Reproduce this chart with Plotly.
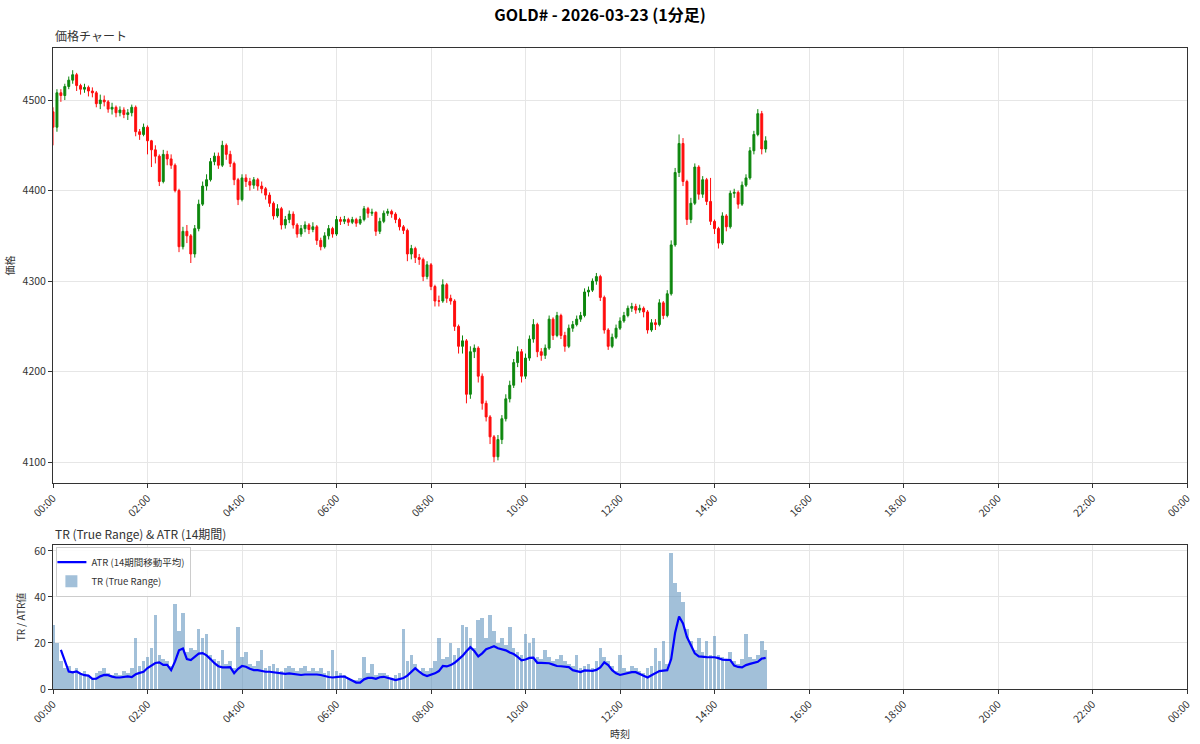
import pandas as pd
import plotly.graph_objects as go
from plotly.subplots import make_subplots

# ---- data (5-minute resolution, 00:00 - 15:05) ----
FIRST_OPEN = 4487
CLOSE = [
    4470, 4508, 4505, 4515, 4522, 4528, 4516, 4512, 4514, 4510, 4508, 4496,
    4500, 4498, 4490, 4492, 4486, 4489, 4484, 4486, 4492, 4465, 4462, 4470,
    4455, 4445, 4438, 4410, 4440, 4435, 4428, 4400, 4338, 4355, 4350, 4330,
    4358, 4385, 4405, 4412, 4432, 4438, 4428, 4450, 4440, 4430, 4412, 4390,
    4414, 4410, 4406, 4412, 4405, 4402, 4395, 4386, 4372, 4380, 4362, 4368,
    4374, 4362, 4352, 4358, 4362, 4357, 4360, 4345, 4338, 4350, 4358, 4352,
    4368, 4366, 4368, 4365, 4368, 4364, 4368, 4380, 4375, 4376, 4355, 4366,
    4375, 4377, 4374, 4368, 4360, 4356, 4330, 4336, 4326, 4324, 4305, 4318,
    4294, 4278, 4278, 4296, 4281, 4278, 4250, 4228, 4234, 4175, 4222, 4226,
    4195, 4165, 4150, 4128, 4106, 4125, 4148, 4170, 4185, 4210, 4222, 4195,
    4215, 4236, 4252, 4222, 4218, 4226, 4258, 4240, 4262, 4240, 4228, 4248,
    4252, 4258, 4262, 4288, 4290, 4300, 4305, 4282, 4246, 4228, 4238, 4248,
    4256, 4262, 4270, 4272, 4268, 4270, 4266, 4246, 4254, 4252, 4276, 4262,
    4286, 4340, 4420, 4452, 4410, 4368, 4386, 4426, 4396, 4412, 4388, 4366,
    4358, 4342, 4372, 4360, 4397, 4398, 4385, 4406, 4414, 4444, 4462, 4485,
    4446, 4455,
]
HIGH = [
    4492, 4512, 4512, 4518, 4526, 4533, 4530, 4518, 4518, 4516, 4514, 4510,
    4506, 4505, 4500, 4497, 4494, 4493, 4492, 4490, 4495, 4494, 4468, 4474,
    4472, 4456, 4450, 4440, 4445, 4444, 4440, 4430, 4402, 4360, 4362, 4352,
    4362, 4390, 4410, 4418, 4436, 4442, 4442, 4455, 4452, 4444, 4432, 4414,
    4418, 4418, 4414, 4415, 4414, 4410, 4404, 4398, 4388, 4385, 4382, 4372,
    4378, 4377, 4364, 4362, 4366, 4364, 4365, 4362, 4348, 4354, 4362, 4360,
    4372, 4371, 4372, 4370, 4371, 4370, 4372, 4383, 4382, 4380, 4377, 4370,
    4378, 4380, 4379, 4376, 4370, 4362, 4358, 4340, 4338, 4330, 4326, 4322,
    4320, 4296, 4284, 4302, 4298, 4285, 4280, 4252, 4240, 4236, 4228, 4230,
    4228, 4198, 4168, 4152, 4130, 4130, 4152, 4175, 4190, 4214, 4228, 4225,
    4220, 4240, 4258, 4254, 4226, 4230, 4262, 4260, 4266, 4264, 4244, 4252,
    4256, 4262, 4266, 4292, 4294, 4303, 4309, 4307, 4284, 4248, 4242, 4252,
    4260, 4266, 4273, 4276, 4275, 4274, 4272, 4268, 4258, 4258, 4280, 4278,
    4290, 4345, 4425, 4462, 4458, 4412, 4392, 4430, 4428, 4416, 4414, 4414,
    4368, 4360, 4376, 4374, 4400, 4402, 4400, 4410, 4418, 4448, 4466, 4490,
    4488, 4460,
]
LOW = [
    4450, 4465, 4498, 4500, 4512, 4518, 4510, 4506, 4508, 4504, 4503, 4492,
    4490, 4493, 4486, 4484, 4481, 4482, 4480, 4478, 4482, 4460, 4456, 4460,
    4440, 4426, 4430, 4405, 4408, 4428, 4424, 4398, 4332, 4335, 4342, 4320,
    4326, 4355, 4383, 4400, 4410, 4428, 4424, 4426, 4434, 4426, 4406, 4384,
    4388, 4404, 4400, 4402, 4400, 4397, 4390, 4382, 4368, 4370, 4357, 4358,
    4364, 4358, 4348, 4349, 4354, 4352, 4354, 4340, 4334, 4336, 4346, 4348,
    4350, 4362, 4363, 4361, 4363, 4360, 4362, 4366, 4370, 4372, 4350, 4352,
    4364, 4372, 4370, 4364, 4356, 4352, 4322, 4324, 4320, 4318, 4300, 4302,
    4290, 4272, 4272, 4276, 4276, 4274, 4245, 4220, 4220, 4165, 4170, 4215,
    4188, 4158, 4145, 4120, 4100, 4102, 4120, 4145, 4166, 4182, 4205, 4188,
    4192, 4212, 4232, 4216, 4212, 4214, 4224, 4235, 4238, 4236, 4222, 4226,
    4244, 4250, 4255, 4260, 4283, 4288, 4296, 4278, 4242, 4224, 4226, 4236,
    4246, 4254, 4260, 4266, 4264, 4265, 4260, 4242, 4244, 4246, 4250, 4258,
    4260, 4284, 4338, 4415, 4405, 4362, 4364, 4384, 4390, 4392, 4384, 4362,
    4352, 4336, 4340, 4355, 4358, 4392, 4380, 4383, 4404, 4412, 4440, 4460,
    4440, 4442,
]
TR = [
    28, 20, 12, 9, 10, 8, 9, 7, 8, 6, 5, 7,
    8, 9, 7, 6, 7, 6, 8, 7, 9, 22, 10, 12,
    14, 18, 32, 15, 13, 12, 10, 37, 25, 33, 16, 18,
    17, 26, 22, 24, 15, 13, 12, 17, 11, 12, 9, 27,
    14, 16, 11, 10, 12, 17, 9, 10, 11, 9, 8, 9,
    10, 9, 8, 9, 10, 8, 9, 8, 9, 7, 8, 17,
    8, 7, 6, 5, 4, 4, 5, 14, 7, 11, 6, 7,
    7, 6, 5, 6, 7, 26, 12, 15, 11, 8, 9, 8,
    9, 12, 22, 13, 14, 20, 15, 18, 28, 27, 22, 18,
    30, 31, 22, 32, 25, 20, 22, 19, 27, 18, 16, 15,
    24, 20, 22, 14, 13, 17, 14, 12, 13, 15, 12, 11,
    10, 15, 9, 10, 11, 9, 12, 18, 14, 12, 10, 8,
    15, 9, 8, 10, 9, 8, 7, 9, 10, 18, 12, 21,
    11, 59, 46, 42, 38, 26, 21, 17, 22, 16, 21, 15,
    23, 15, 14, 13, 16, 12, 11, 13, 24, 14, 13, 15,
    21, 17,
]
ATR_START = 2  # ATR defined from the 3rd 5-minute slot onward
ATR = [
    17, 12.6, 7.6, 7.2, 7.6, 6.6, 6.0, 5.8, 4.4, 4.5,
    5.5, 6.1, 6.0, 5.4, 5.0, 5.0, 5.1, 5.5, 5.2, 6.4, 7.0, 7.5,
    9.1, 10.3, 11.3, 11.6, 10.5, 10.5, 8.2, 12, 16.8, 17.6, 13, 12.6,
    14.2, 15.4, 15.6, 14.6, 13, 11.2, 9.9, 9.4, 9.4, 9.5, 6.9, 8.8,
    10, 9.7, 8.8, 8.2, 8.2, 7.8, 7.5, 7.5, 7.3, 6.9, 6.7, 6.6,
    6.8, 6.5, 6.1, 6.1, 6.3, 6.4, 6.4, 6.3, 6.1, 5.6, 5.2, 5.0,
    5.3, 5.4, 5.4, 4.5, 3.4, 2.8, 2.8, 4.2, 4.8, 4.8, 4.4, 5.1,
    5.3, 5.0, 4.4, 3.9, 4.2, 4.8, 5.8, 7.5, 9.0, 7.6, 6.3, 5.6,
    6.1, 6.8, 7.8, 10, 9.8, 10.4, 11.4, 12.8, 14.4, 16.4, 18.2, 16.5,
    14.2, 15.5, 17.3, 17.9, 18.6, 17.7, 17.3, 16.8, 15.9, 15.2, 14.0, 12.5,
    12.8, 13.5, 13.6, 11.4, 11.4, 11.4, 11.2, 10.6, 10, 9.9, 9.8, 9.5,
    8.2, 7.8, 7.4, 8.1, 8.1, 7.9, 8.3, 9.4, 11.6, 10.4, 8.2, 6.8,
    6.1, 6.5, 7.0, 7.3, 7.3, 6.6, 5.8, 5.0, 6.0, 6.9, 7.8, 8.0,
    8.2, 13, 24.5, 31.5, 28.5, 22.6, 19.3, 15.5, 14.2, 14.2, 13.9, 13.8,
    13.8, 13.4, 12.8, 12.7, 12.6, 10.2, 9.6, 9.4, 10.4, 10.9, 11.4, 11.8,
    13.2, 13.5,
]
TITLE = "GOLD# - 2026-03-23 (1分足)"
PRICE_TICKS = [4100, 4200, 4300, 4400, 4500]
TR_TICKS = [0, 20, 40, 60]

# ---- derived ----
times = pd.date_range("2026-03-23 00:00", periods=len(CLOSE), freq="5min")
OPEN = [FIRST_OPEN] + CLOSE[:-1]
x_start = pd.Timestamp("2026-03-23 00:00")
x_end = pd.Timestamp("2026-03-24 00:00")

FONT = "Noto Sans CJK JP"
TXT = "#333333"
GRID = "#e6e6e6"

fig = make_subplots(rows=2, cols=1, shared_xaxes=False, vertical_spacing=0.0)

fig.add_trace(go.Candlestick(
    x=times, open=OPEN, high=HIGH, low=LOW, close=CLOSE,
    increasing=dict(line=dict(color="green", width=1), fillcolor="green"),
    decreasing=dict(line=dict(color="red", width=1), fillcolor="red"),
    showlegend=False, whiskerwidth=0, opacity=0.95,
), row=1, col=1)

fig.add_trace(go.Scatter(
    x=times[ATR_START:], y=ATR, mode="lines",
    line=dict(color="#0000ff", width=2.2),
    name="ATR (14期間移動平均)", legendrank=1,
), row=2, col=1)

fig.add_trace(go.Bar(
    x=times, y=TR, width=4.5 * 60 * 1000,
    marker=dict(color="rgba(70,130,180,0.5)", line=dict(width=0)),
    name="TR (True Range)", legendrank=2,
), row=2, col=1)

top_dom = [206 / 641, 1.0]
bot_dom = [0.0, 144 / 641]

axis_common = dict(
    showline=True, linecolor="#333333", linewidth=1, mirror=True,
    ticks="outside", ticklen=4, tickcolor="#333333",
    showgrid=True, gridcolor=GRID, gridwidth=1, zeroline=False,
    tickfont=dict(family=FONT, size=10.5, color=TXT),
)

fig.update_layout(
    width=1200, height=744,
    margin=dict(l=53, r=7, t=48, b=55),
    paper_bgcolor="white", plot_bgcolor="white",
    font=dict(family=FONT, color=TXT),
    title=dict(text="<b>" + TITLE + "</b>", x=0.5, xanchor="center",
               y=1 - 15 / 744, yanchor="middle",
               font=dict(family=FONT, size=16, color="#000000")),
    bargap=0,
    legend=dict(x=0.003, y=0.222, xanchor="left", yanchor="top",
                bgcolor="rgba(255,255,255,0.85)", bordercolor="#cccccc",
                borderwidth=1, font=dict(family=FONT, size=9.5, color=TXT),
                traceorder="normal", itemwidth=30, tracegroupgap=0,
                indentation=-6),
    xaxis=dict(axis_common, domain=[0, 1], type="date",
               range=[x_start, x_end], dtick=2 * 3600 * 1000,
               tick0=x_start, tickformat="%H:%M", tickangle=-45,
               rangeslider=dict(visible=False), anchor="y"),
    yaxis=dict(axis_common, domain=top_dom, range=[4077, 4557.5],
               tickvals=PRICE_TICKS,
               title=dict(text="価格", font=dict(family=FONT, size=10, color=TXT), standoff=6)),
    xaxis2=dict(axis_common, domain=[0, 1], type="date",
                range=[x_start, x_end], dtick=2 * 3600 * 1000,
                tick0=x_start, tickformat="%H:%M", tickangle=-45, anchor="y2",
                title=dict(text="時刻", font=dict(family=FONT, size=10, color=TXT), standoff=4)),
    yaxis2=dict(axis_common, domain=bot_dom, range=[0, 62.6],
                tickvals=TR_TICKS,
                title=dict(text="TR / ATR値", font=dict(family=FONT, size=10, color=TXT), standoff=6)),
)

fig.add_annotation(text="価格チャート", xref="paper", yref="paper",
                   x=0, y=1 + 12 / 641, xanchor="left", yanchor="middle",
                   showarrow=False, font=dict(family=FONT, size=12, color=TXT))
fig.add_annotation(text="TR (True Range) & ATR (14期間)", xref="paper", yref="paper",
                   x=0, y=(689 - 533) / 641, xanchor="left", yanchor="middle",
                   showarrow=False, font=dict(family=FONT, size=12, color=TXT))

fig.write_html("out.html")
